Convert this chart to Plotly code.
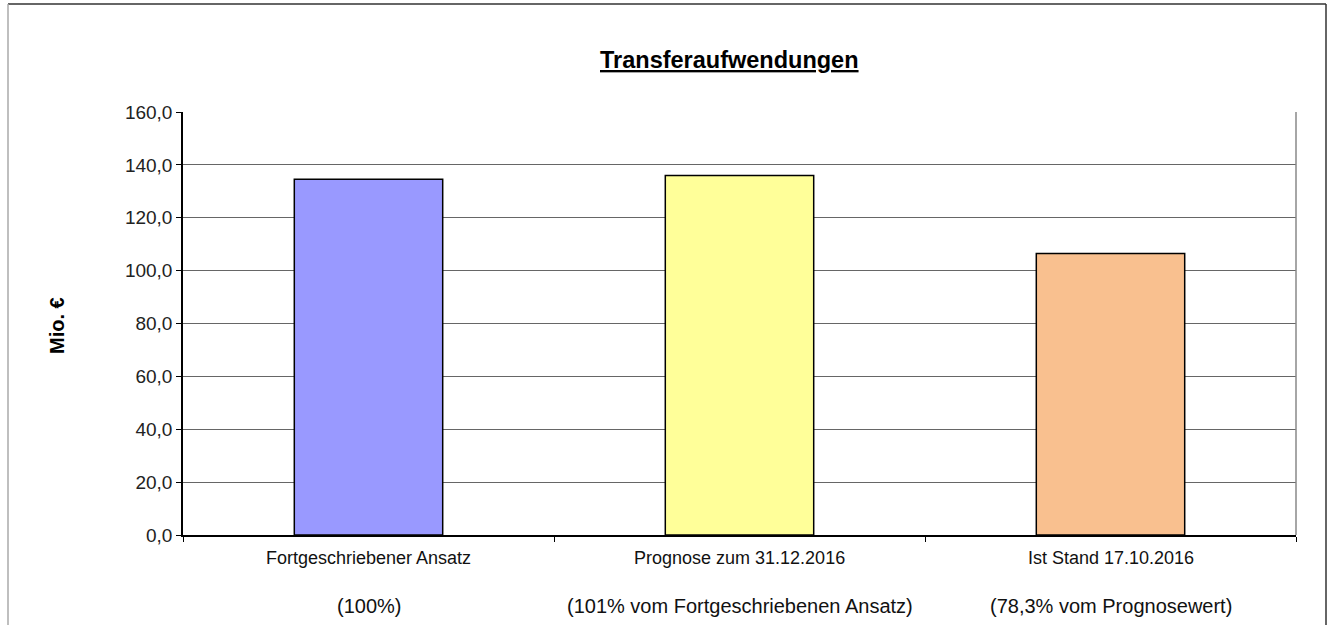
import plotly.graph_objects as go

categories = ["Fortgeschriebener Ansatz", "Prognose zum 31.12.2016", "Ist Stand 17.10.2016"]
sublabels = ["(100%)", "(101% vom Fortgeschriebenen Ansatz)", "(78,3% vom Prognosewert)"]
values = [134.6, 136.0, 106.5]
bar_colors = ["#9999FF", "#FFFF99", "#F9C08F"]
y_ticks = [0, 20, 40, 60, 80, 100, 120, 140, 160]

W, H = 1333, 625
L, R, T, B = 183, 1296, 112, 535
pw, ph = R - L, B - T

def px_x(x):
    return (x - L) / pw

def px_y(y):
    return (B - y) / ph

fig = go.Figure()
fig.add_trace(go.Bar(
    x=categories, y=values,
    marker=dict(color=bar_colors, line=dict(color="#000000", width=1.5)),
    hoverinfo="skip",
))

font_family = "Liberation Sans, Arial, sans-serif"

annotations = []
for cat, sub in zip(categories, sublabels):
    annotations.append(dict(x=cat, xref="x", y=px_y(558), yref="paper", text=cat,
                            showarrow=False, xanchor="center", yanchor="middle",
                            font=dict(family=font_family, size=18, color="#111")))
    annotations.append(dict(x=cat, xref="x", y=px_y(606), yref="paper", text=sub,
                            showarrow=False, xanchor="center", yanchor="middle",
                            font=dict(family=font_family, size=20, color="#111")))

annotations.append(dict(x=px_x(729), y=px_y(60), xref="paper", yref="paper",
                        text="<b><u>Transferaufwendungen</u></b>", showarrow=False,
                        xanchor="center", yanchor="middle",
                        font=dict(family=font_family, size=23.5, color="#000")))
annotations.append(dict(x=px_x(57), y=px_y(326), xref="paper", yref="paper",
                        text="<b>Mio. €</b>", showarrow=False, textangle=-90,
                        xanchor="center", yanchor="middle",
                        font=dict(family=font_family, size=20, color="#000")))

shapes = [
    # outer frame
    dict(type="line", xref="paper", yref="paper", x0=px_x(8), x1=px_x(1326), y0=px_y(4), y1=px_y(4),
         line=dict(color="#333333", width=1.5)),
    dict(type="line", xref="paper", yref="paper", x0=px_x(1326), x1=px_x(1326), y0=px_y(4), y1=px_y(640),
         line=dict(color="#333333", width=1.5)),
    dict(type="line", xref="paper", yref="paper", x0=px_x(8), x1=px_x(8), y0=px_y(4), y1=px_y(640),
         line=dict(color="#aaaaaa", width=1.5)),
    # right border of plot area
    dict(type="line", xref="paper", yref="paper", x0=1, x1=1, y0=0, y1=1,
         line=dict(color="#888888", width=1.5)),
]

fig.update_layout(
    width=W, height=H,
    margin=dict(l=L, r=W - R, t=T, b=H - B, pad=0),
    paper_bgcolor="white", plot_bgcolor="white",
    separators=",.",
    bargap=0.6,
    showlegend=False,
    font=dict(family=font_family, color="#000"),
    annotations=annotations,
    shapes=shapes,
    xaxis=dict(
        type="category", tickson="boundaries", ticks="outside", ticklen=5,
        tickcolor="#000", showticklabels=False, showline=True, linecolor="#000",
        linewidth=1.5, showgrid=False, zeroline=False,
    ),
    yaxis=dict(
        range=[0, 160], tickvals=y_ticks, tickformat=".1f", ticks="outside", ticklen=5,
        tickcolor="#000", showline=True, linecolor="#000", linewidth=1.5,
        showgrid=True, gridcolor="#666666", gridwidth=1, zeroline=False,
        tickfont=dict(family=font_family, size=19, color="#222"),
    ),
)

fig.write_html("out.html", config={"displayModeBar": False},
               post_script="document.body.style.margin='0';document.body.style.overflow='hidden';")
